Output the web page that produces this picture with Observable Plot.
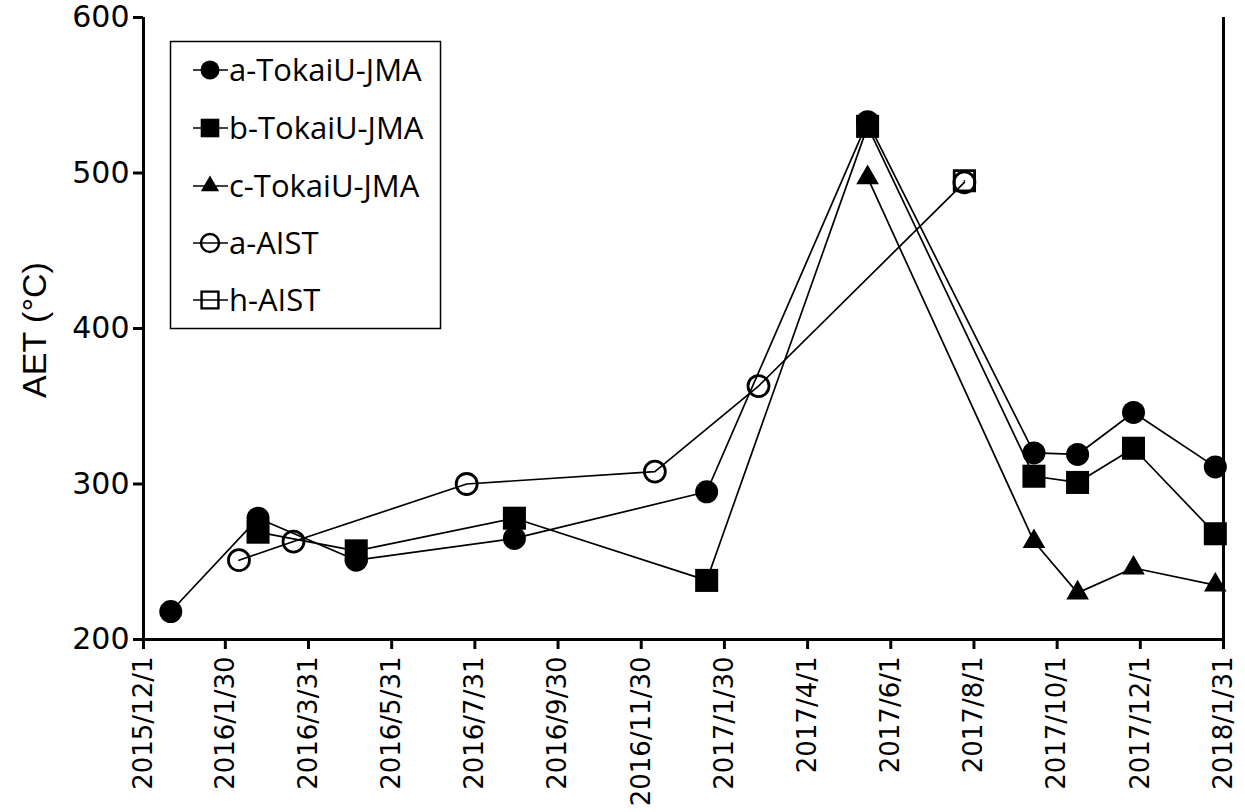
<!DOCTYPE html>
<html>
<head>
<meta charset="utf-8">
<script src="https://cdn.jsdelivr.net/npm/d3@7"></script>
<script src="https://cdn.jsdelivr.net/npm/@observablehq/plot@0.6"></script>
<style>
  html, body { margin: 0; padding: 0; background: white; }
  #wrap { position: relative; width: 1245px; height: 812px; }
  #wrap svg { position: absolute; left: 0; top: 0; }
</style>
</head>
<body>
<div id="wrap"></div>
<script>
// ---- data ----
const tickLabels = ["2015/12/1","2016/1/30","2016/3/31","2016/5/31","2016/7/31","2016/9/30","2016/11/30","2017/1/30","2017/4/1","2017/6/1","2017/8/1","2017/10/1","2017/12/1","2018/1/31"];
const yTicks = [200, 300, 400, 500, 600];

const seriesNames = ["a-TokaiU-JMA", "b-TokaiU-JMA", "c-TokaiU-JMA", "a-AIST", "h-AIST"];

const aTokaiDates  = ["2015-12-21","2016-02-23","2016-05-05","2016-08-29","2017-01-17","2017-05-15","2017-09-14","2017-10-16","2017-11-26","2018-01-25"];
const aTokaiValues = [218, 278, 251, 265, 295, 533, 320, 319, 346, 311];

const bTokaiDates  = ["2016-02-23","2016-05-05","2016-08-29","2017-01-17","2017-05-15","2017-09-14","2017-10-16","2017-11-26","2018-01-25"];
const bTokaiValues = [269, 257, 278, 238, 530, 305, 301, 323, 268];

const cTokaiDates  = ["2017-05-15","2017-09-14","2017-10-16","2017-11-26","2018-01-25"];
const cTokaiValues = [497, 263, 230, 246, 235];

const aAistDates   = ["2016-02-09","2016-03-20","2016-07-25","2016-12-10","2017-02-24","2017-07-25"];
const aAistValues  = [251, 263, 300, 308, 363, 494];

const hAistDates   = ["2017-07-25"];
const hAistValues  = [495];

// ---- build ----
const parseTick = d3.utcParse("%Y/%m/%d");
const parseISO = d3.utcParse("%Y-%m-%d");
const tickDates = tickLabels.map(parseTick);
const fmt = d => `${d.getUTCFullYear()}/${d.getUTCMonth() + 1}/${d.getUTCDate()}`;

const styles = [
  {symbol: "circle",   fill: "black", stroke: "none",  r: 11.5, sw: 0},
  {symbol: "square",   fill: "black", stroke: "none",  r: 13,   sw: 0},
  {symbol: "triangle", fill: "black", stroke: "none",  r: 8.4,  sw: 0},
  {symbol: "circle",   fill: "none",  stroke: "black", r: 10.5, sw: 2.8},
  {symbol: "square",   fill: "none",  stroke: "black", r: 11.5, sw: 2.8}
];
const rawSeries = [
  [aTokaiDates, aTokaiValues],
  [bTokaiDates, bTokaiValues],
  [cTokaiDates, cTokaiValues],
  [aAistDates, aAistValues],
  [hAistDates, hAistValues]
];
const tables = rawSeries.map(([ds, vs], i) =>
  ds.map((d, j) => ({date: parseISO(d), value: vs[j], series: seriesNames[i]})));

const xStart = tickDates[0], xEnd = tickDates[tickDates.length - 1];

const marks = [];
tables.forEach(t => marks.push(Plot.line(t, {x: "date", y: "value", stroke: "black", strokeWidth: 1.7})));
tables.forEach((t, i) => {
  const s = styles[i];
  marks.push(Plot.dot(t, {x: "date", y: "value", symbol: s.symbol, r: s.r, fill: s.fill,
    stroke: s.stroke, strokeWidth: s.sw}));
});
marks.push(Plot.ruleY([yTicks[0]], {stroke: "black", strokeWidth: 3}));
marks.push(Plot.ruleX([xStart], {stroke: "black", strokeWidth: 3}));
marks.push(Plot.ruleX([xEnd], {stroke: "black", strokeWidth: 3}));
marks.push(Plot.axisY({ticks: yTicks, tickSize: 10, tickPadding: 4, strokeWidth: 3, fontSize: 30, label: null}));
marks.push(Plot.axisX({ticks: tickDates, tickFormat: fmt, tickRotate: -90, tickSize: 10, tickPadding: 7,
  strokeWidth: 3, fontSize: 26, label: null}));

const chart = Plot.plot({
  width: 1245,
  height: 812,
  marginLeft: 143,
  marginRight: 22,
  marginTop: 17,
  marginBottom: 173,
  style: {fontFamily: "DejaVu Sans", color: "black", background: "white", overflow: "visible"},
  x: {type: "utc", domain: [xStart, xEnd]},
  y: {domain: [yTicks[0], yTicks[yTicks.length - 1]]},
  marks
});
document.getElementById("wrap").appendChild(chart);

// ---- y label and legend overlay ----
const ov = d3.select("#wrap").append("svg")
  .attr("width", 1245).attr("height", 812)
  .style("pointer-events", "none");

ov.append("text")
  .attr("transform", "translate(46,330) rotate(-90)")
  .attr("text-anchor", "middle")
  .attr("font-family", "Liberation Sans, Arial, sans-serif")
  .attr("font-size", 34)
  .attr("fill", "black")
  .text("AET (°C)");

const lg = ov.append("g");
lg.append("rect").attr("x", 170.5).attr("y", 41.5).attr("width", 270).attr("height", 287)
  .attr("fill", "white").attr("stroke", "black").attr("stroke-width", 1.5);

const rowY = [70, 128, 186, 243, 300];
const symMap = {circle: d3.symbolCircle, square: d3.symbolSquare, triangle: d3.symbolTriangle};
const legendR = [9.5, 10.5, 6.8, 9, 9.5];
seriesNames.forEach((name, i) => {
  const s = styles[i];
  const y = rowY[i];
  lg.append("line").attr("x1", 193).attr("x2", 228).attr("y1", y).attr("y2", y)
    .attr("stroke", "black").attr("stroke-width", 1.7);
  lg.append("path")
    .attr("transform", `translate(210,${y})`)
    .attr("d", d3.symbol(symMap[s.symbol], Math.PI * legendR[i] * legendR[i])())
    .attr("fill", s.fill)
    .attr("stroke", s.stroke)
    .attr("stroke-width", s.sw ? 2.4 : 0);
  lg.append("text")
    .attr("x", 229).attr("y", y).attr("dy", "0.36em")
    .attr("font-family", "Open Sans, sans-serif")
    .attr("font-size", 31)
    .attr("fill", "black")
    .text(name);
});
</script>
</body>
</html>
